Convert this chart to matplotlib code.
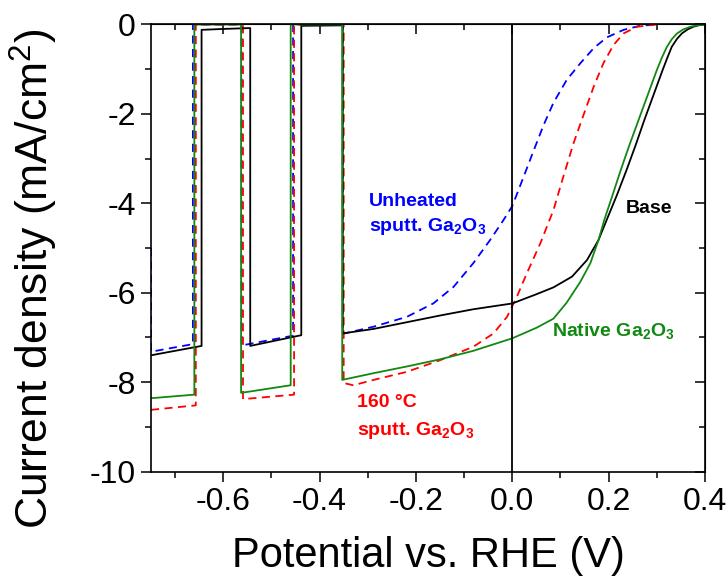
import matplotlib
matplotlib.use("Agg")
import matplotlib.pyplot as plt
from matplotlib.ticker import MultipleLocator, FixedLocator

plt.rcParams['font.family'] = ['Liberation Sans', 'DejaVu Sans']
plt.rcParams['mathtext.fontset'] = 'custom'
plt.rcParams['mathtext.rm'] = 'Liberation Sans'
plt.rcParams['mathtext.bf'] = 'Liberation Sans:bold'

# ---- data (potential V vs RHE, current density mA/cm^2) ----
base_v = [-0.75, -0.645, -0.645, -0.60, -0.544, -0.544, -0.438, -0.438, -0.352, -0.352,
          -0.288, -0.219, -0.150, -0.081, 0.0, 0.051, 0.0855, 0.124, 0.155, 0.179,
          0.196, 0.217, 0.237, 0.256, 0.274, 0.293, 0.312, 0.322, 0.331, 0.342, 0.352,
          0.364, 0.376, 0.388, 0.40]
base_j = [-7.40, -7.19, -0.12, -0.10, -0.08, -7.19, -6.95, -0.03, -0.02, -6.91,
          -6.81, -6.66, -6.51, -6.37, -6.24, -6.03, -5.88, -5.64, -5.27, -4.82,
          -4.37, -3.82, -3.26, -2.70, -2.14, -1.58, -1.02, -0.74, -0.50, -0.32, -0.20,
          -0.11, -0.05, -0.015, 0.0]

native_v = [-0.75, -0.66, -0.66, -0.563, -0.563, -0.46, -0.46, -0.353, -0.353,
            -0.288, -0.219, -0.150, -0.081, 0.0, 0.051, 0.0855, 0.113, 0.141, 0.162,
            0.179, 0.191, 0.208, 0.225, 0.243, 0.262, 0.281, 0.300, 0.311, 0.321, 0.331,
            0.342, 0.355, 0.370, 0.385, 0.40]
native_j = [-8.36, -8.28, 0.0, 0.0, -8.24, -8.07, 0.0, 0.0, -7.95,
            -7.80, -7.65, -7.49, -7.30, -7.02, -6.78, -6.58, -6.22, -5.76, -5.34,
            -4.82, -4.37, -3.82, -3.26, -2.70, -2.14, -1.58, -1.02, -0.73, -0.50, -0.33,
            -0.20, -0.11, -0.05, -0.015, 0.0]

unheated_v = [-0.75, -0.75, -0.663, -0.663, -0.562, -0.562, -0.455, -0.455, -0.352, -0.352,
              -0.288, -0.219, -0.164, -0.122, -0.081, -0.046, -0.018, 0.0, 0.023, 0.044,
              0.065, 0.0855, 0.113, 0.141, 0.169, 0.196, 0.231, 0.265, 0.30]
unheated_j = [-5.0, -7.32, -7.15, 0.0, 0.0, -7.18, -6.96, 0.0, 0.0, -6.92,
              -6.76, -6.54, -6.24, -5.87, -5.34, -4.82, -4.37, -4.06, -3.42, -2.83,
              -2.25, -1.75, -1.24, -0.87, -0.53, -0.29, -0.12, -0.03, 0.0]

heated_v = [-0.75, -0.657, -0.657, -0.559, -0.559, -0.453, -0.453, -0.35, -0.35,
            -0.33, -0.288, -0.219, -0.150, -0.081, -0.039, -0.011, 0.0095, 0.030, 0.058,
            0.0855, 0.106, 0.127, 0.148, 0.169, 0.189, 0.210, 0.231, 0.259, 0.30]
heated_j = [-8.62, -8.52, 0.0, 0.0, -8.38, -8.28, 0.0, 0.0, -8.02,
            -8.07, -7.95, -7.77, -7.51, -7.21, -6.91, -6.54, -6.09, -5.57, -4.90,
            -4.15, -3.40, -2.66, -2.02, -1.39, -0.87, -0.46, -0.20, -0.05, 0.0]

x_major = [-0.6, -0.4, -0.2, 0.0, 0.2, 0.4]
x_minor = [-0.7, -0.5, -0.3, -0.1, 0.1, 0.3]
x_labels = ['-0.6', '-0.4', '-0.2', '0.0', '0.2', '0.4']
y_major = [-10, -8, -6, -4, -2, 0]
y_labels = ['-10', '-8', '-6', '-4', '-2', '0']

fig = plt.figure(figsize=(7.28, 5.80), dpi=100)
ax = fig.add_axes([0.2074, 0.187, 0.761, 0.7708])

lw = 1.3
ax.plot(unheated_v, unheated_j, color='#0000ff', lw=lw, dashes=(4.5, 3))
ax.plot(heated_v, heated_j, color='#ff0000', lw=lw, dashes=(4.5, 3))
ax.plot(base_v, base_j, color='black', lw=lw)
ax.plot(native_v, native_j, color='#118811', lw=lw)

ax.axvline(0.0, color='black', lw=1.3)

ax.set_xlim(-0.75, 0.4)
ax.set_ylim(-10, 0)

ax.set_xticks(x_major)
ax.set_xticklabels(x_labels)
ax.set_yticks(y_major)
ax.set_yticklabels(y_labels)
ax.xaxis.set_minor_locator(FixedLocator(x_minor))
ax.yaxis.set_minor_locator(MultipleLocator(1))
ax.tick_params(which='major', direction='out', length=7, width=1.1, labelsize=23, pad=4)
ax.tick_params(which='minor', direction='out', length=4, width=1.1)
for s in ax.spines.values():
    s.set_linewidth(1.2)

secx = ax.secondary_xaxis('top')
secx.set_xticks(x_major)
secx.xaxis.set_minor_locator(FixedLocator(x_minor))
secx.tick_params(which='major', direction='in', length=7, width=1.1, labeltop=False)
secx.tick_params(which='minor', direction='in', length=4, width=1.1)
secy = ax.secondary_yaxis('right')
secy.set_yticks(y_major)
secy.yaxis.set_minor_locator(MultipleLocator(1))
secy.tick_params(which='major', direction='in', length=7, width=1.1, labelright=False)
secy.tick_params(which='minor', direction='in', length=4, width=1.1)

ax.set_xlabel('Potential vs. RHE (V)', fontsize=30, labelpad=14)
ax.set_ylabel('Current density (mA/cm$^2$)', fontsize=32)
ax.yaxis.set_label_coords(-0.165, 0.432)

fs = 14
ax.text(-0.297, -4.05, 'Unheated', color='#0000ff', fontsize=fs, fontweight='bold')
ax.text(-0.297, -4.62, r'sputt. Ga$_\mathbf{2}$O$_\mathbf{3}$', color='#0000ff', fontsize=fs, fontweight='bold')
ax.text(0.235, -4.22, 'Base', color='black', fontsize=fs, fontweight='bold')
ax.text(0.083, -6.98, r'Native Ga$_\mathbf{2}$O$_\mathbf{3}$', color='#118811', fontsize=fs, fontweight='bold')
ax.text(-0.322, -8.56, '160 °C', color='#ff0000', fontsize=fs, fontweight='bold')
ax.text(-0.322, -9.18, r'sputt. Ga$_\mathbf{2}$O$_\mathbf{3}$', color='#ff0000', fontsize=fs, fontweight='bold')

fig.savefig('out.png', dpi=100)
